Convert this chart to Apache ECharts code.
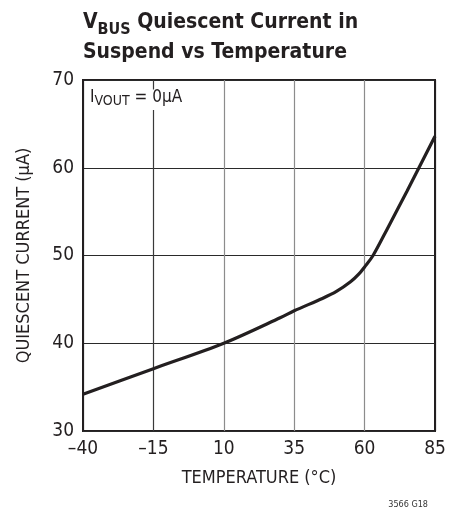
<!DOCTYPE html>
<html>
<head>
<meta charset="utf-8">
<script src="https://cdn.jsdelivr.net/npm/echarts@6/dist/echarts.min.js"></script>
<style>html,body{margin:0;padding:0;background:#fff}#c{width:458px;height:512px}</style>
</head>
<body>
<div id="c"></div>
<script>
// Data
var temperatures = [-40, -15, 10, 30, 35, 45, 50, 55, 58, 60, 63, 68, 75, 85];
var quiescentCurrent = [34.2, 37.1, 40.0, 42.9, 43.7, 45.1, 45.9, 47.0, 47.9, 48.7, 50.0, 53.0, 57.3, 63.6];
var xTicks = [-40, -15, 10, 35, 60, 85];
var yTicks = [30, 40, 50, 60, 70];

var FONT = '"Liberation Sans Narrow", "DejaVu Sans Condensed", sans-serif';
var INK = '#231f20';

var seriesData = temperatures.map(function (t, i) { return [t, quiescentCurrent[i]]; });

var chart = echarts.init(document.getElementById('c'), null, {renderer: 'canvas'});
chart.setOption({
  animation: false,
  backgroundColor: '#fff',
  title: [
    {
      text: '{v|V}{sub|BUS}{v| Quiescent Current in}\n{v|Suspend vs Temperature}',
      left: 78, top: 3,
      textStyle: {
        rich: {
          v: {fontFamily: FONT, fontWeight: 'bold', fontSize: 21, color: INK, lineHeight: 30},
          sub: {fontFamily: FONT, fontWeight: 'bold', fontSize: 16, color: INK, lineHeight: 28, verticalAlign: 'bottom'}
        }
      }
    },
    {
      text: '{a|I}{s|VOUT}{a| = 0µA}',
      left: 88, top: 88,
      backgroundColor: '#fff',
      padding: [0, 2, 2, 2],
      textStyle: {
        fontWeight: 'normal',
        rich: {
          a: {fontFamily: FONT, fontWeight: 'normal', fontSize: 17, color: INK, lineHeight: 20},
          s: {fontFamily: FONT, fontWeight: 'normal', fontSize: 14, color: INK, lineHeight: 20, verticalAlign: 'bottom'}
        }
      }
    },
    {
      text: '3566 G18',
      right: 30, top: 500,
      padding: 0,
      textStyle: {fontFamily: FONT, fontSize: 9, fontWeight: 'normal', color: '#333'}
    }
  ],
  grid: {
    left: 83, right: 23, top: 80, bottom: 81,
    show: true, borderColor: INK, borderWidth: 2, backgroundColor: 'transparent',
    containLabel: false
  },
  xAxis: {
    type: 'value',
    min: -40, max: 85, interval: 25,
    name: 'TEMPERATURE (°C)',
    nameLocation: 'middle',
    nameGap: 38,
    nameTextStyle: {fontFamily: FONT, fontSize: 18, color: INK},
    axisLine: {show: false},
    axisTick: {show: false},
    axisLabel: {
      margin: 9,
      fontFamily: FONT, fontSize: 19, color: INK,
      formatter: function (v) { return String(v).replace('-', '\u2013'); }
    },
    splitLine: {
      show: true,
      lineStyle: {color: [INK, '#3a3a3a', '#8c8c8c', '#8c8c8c', '#8c8c8c', INK], width: 1.2}
    }
  },
  yAxis: {
    type: 'value',
    min: 30, max: 70, interval: 10,
    name: 'QUIESCENT CURRENT (µA)',
    nameLocation: 'middle',
    nameRotate: 90,
    nameGap: 50,
    nameTextStyle: {fontFamily: FONT, fontSize: 18, color: INK},
    axisLine: {show: false},
    axisTick: {show: false},
    axisLabel: {margin: 9, fontFamily: FONT, fontSize: 19, color: INK},
    splitLine: {show: true, lineStyle: {color: '#2a2a2a', width: 1.2}}
  },
  series: [{
    type: 'line',
    data: seriesData,
    smooth: 0.3,
    showSymbol: false,
    symbol: 'none',
    lineStyle: {color: INK, width: 3.2},
    z: 3
  }]
});
</script>
</body>
</html>
